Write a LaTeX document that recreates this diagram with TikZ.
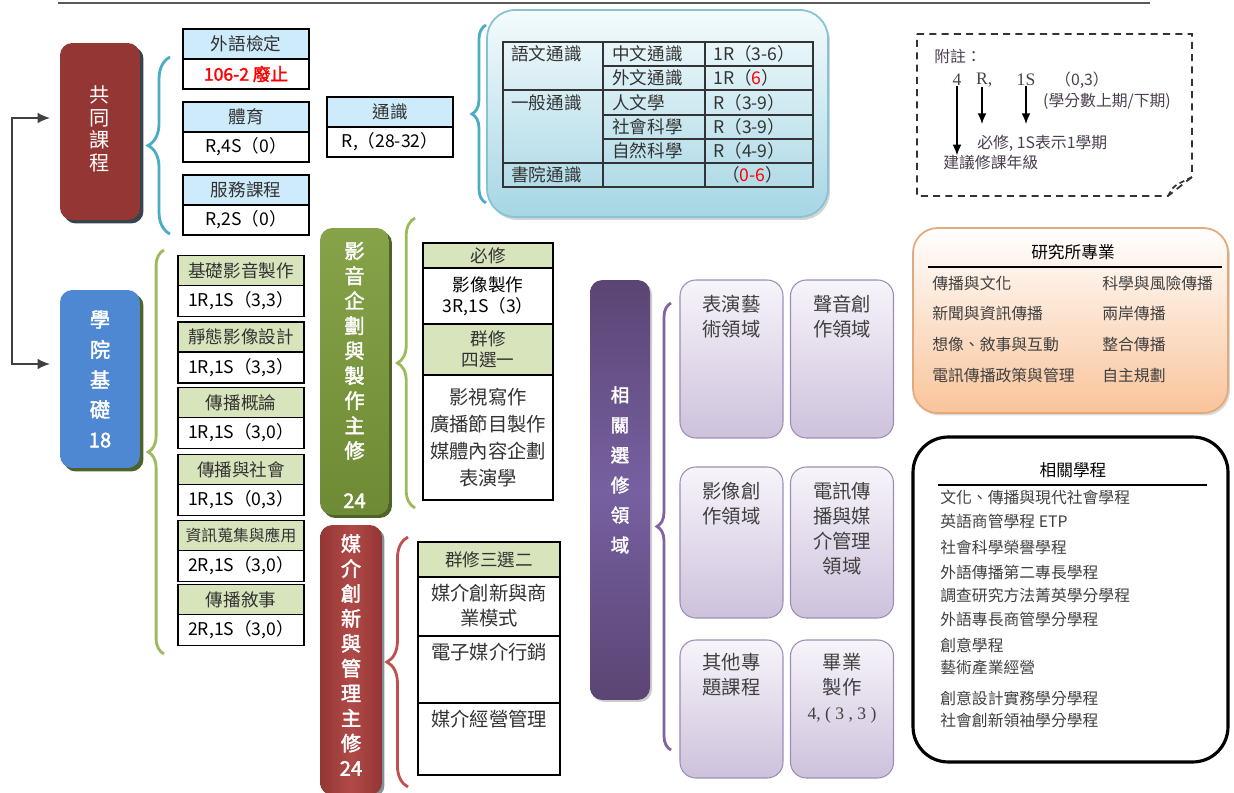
\documentclass[tikz,border=0pt]{standalone}
\usepackage{fontspec}
\setmainfont{Noto Sans CJK TC}[AutoFakeBold=2]
\newfontfamily\serifnum{Liberation Serif}
\usetikzlibrary{positioning,arrows.meta,decorations.pathreplacing,shadows}

\definecolor{wineRed}{HTML}{943634}
\definecolor{wineShadow}{HTML}{36444E}
\definecolor{brickLight}{HTML}{B04A48}
\definecolor{skyBlue}{HTML}{4F88D2}
\definecolor{oliveDark}{HTML}{4F6228}
\definecolor{leafGreen}{HTML}{6E8A34}
\definecolor{leafLight}{HTML}{86A34A}
\definecolor{grapeDark}{HTML}{5A4574}
\definecolor{grapeMid}{HTML}{7760A0}
\definecolor{headBlue}{HTML}{CDEBFA}
\definecolor{headGreen}{HTML}{D8E4BC}
\definecolor{braceTeal}{HTML}{4BACC6}
\definecolor{braceGreen}{HTML}{9BBB59}
\definecolor{braceRed}{HTML}{C0504D}
\definecolor{bracePurple}{HTML}{8064A2}
\definecolor{iceTop}{HTML}{F4FBFD}
\definecolor{iceBottom}{HTML}{A6D6E4}
\definecolor{iceLine}{HTML}{86C3D4}
\definecolor{peachBottom}{HTML}{F9C49A}
\definecolor{peachLine}{HTML}{E3A978}
\definecolor{lilacTop}{HTML}{F7F4FA}
\definecolor{lilacBottom}{HTML}{CDC1DC}
\definecolor{lilacLine}{HTML}{9D8DB5}
\definecolor{noteText}{HTML}{4A3F4F}
\newcommand{\redNum}[1]{\textcolor{red}{#1}}

\tikzset{
  majorbox/.style={rounded corners=7pt, minimum width=1.6cm},
  majortext/.style={text=white, align=center, inner sep=0pt},
  cell/.style={draw=black, line width=0.8pt, outer sep=0pt, minimum width=2.52cm, minimum height=0.6cm, inner sep=1pt, font=\fontsize{10}{12}\selectfont},
  bluehead/.style={cell, fill=headBlue, text=black!80},
  greenhead/.style={cell, fill=headGreen, text=black!80},
  valcell/.style={cell, fill=white},
  bigbrace/.style={decorate, line width=1.6pt, decoration={brace, amplitude=#1}},
  fieldbox/.style={draw=lilacLine, line width=0.6pt, rounded corners=9pt, top color=lilacTop, bottom color=lilacBottom, minimum width=2.06cm},
  fieldtext/.style={anchor=north, align=center, inner sep=0pt, text=black!75, font=\fontsize{11}{14.2}\selectfont},
  tbltext/.style={anchor=west, inner sep=0pt, font=\fontsize{10}{12}\selectfont, text=black!80},
  listtext/.style={anchor=west, inner sep=0pt, font=\fontsize{9}{11}\selectfont, text=black!75},
  notetext/.style={inner sep=0pt, font=\fontsize{9}{11}\selectfont, text=noteText},
  notenum/.style={inner sep=0pt, font=\serifnum\fontsize{10}{12}\selectfont, text=noteText},
  notearrow/.style={-{Latex[length=6pt,width=5pt]}, line width=0.8pt},
}

\begin{document}
\begin{tikzpicture}[x=0.02cm, y=-0.02cm]
  \useasboundingbox (0,0) rectangle (1234,793);

  % top rule
  \draw[black!65, line width=1pt] (58,3) -- (1150,3);

  % left blocks
  \node[majorbox, fill=wineRed, minimum height=3.54cm, drop shadow={shadow xshift=0.07cm, shadow yshift=-0.07cm, fill=wineShadow, opacity=1}] (gong) at (100,131.5) {};
  \node[majortext, font=\fontsize{11.5}{12.9}\selectfont] (gongtxt) at (100,129) {共\\同\\課\\程};
  \node[majorbox, fill=skyBlue, minimum height=3.56cm, drop shadow={shadow xshift=0.07cm, shadow yshift=-0.07cm, fill=oliveDark, opacity=1}] (xue) at (100,379) {};
  \node[majortext, font=\fontsize{11.5}{17.1}\selectfont\bfseries] (xuetxt) at (100,379) {學\\院\\基\\礎\\18};

  \coordinate (fork) at (12,240);
  \coordinate (gongin) at (50,118);
  \coordinate (xuein) at (50,364);
  \draw[-{Latex[length=7pt,width=6pt]}, line width=0.9pt, black!75] (fork) |- (gongin);
  \draw[-{Latex[length=7pt,width=6pt]}, line width=0.9pt, black!75] (fork) |- (xuein);

  % common courses
  \draw[bigbrace=12.5pt, braceTeal] (170,234) -- (170,57);
  \node[bluehead] (waiyu) at (246,44) {外語檢定};
  \node[valcell, below=0pt of waiyu, font=\fontsize{10}{12}\selectfont\bfseries, text=red] (waiyuv) {106-2 廢止};
  \node[bluehead] (tiyu) at (246,117) {體育};
  \node[valcell, below=0pt of tiyu] (tiyuv) {R,4S（0）};
  \node[bluehead] (fuwu) at (246,190) {服務課程};
  \node[valcell, below=0pt of fuwu] (fuwuv) {R,2S（0）};
  \node[bluehead] (tongshi) at (390,112) {通識};
  \node[valcell, below=0pt of tongshi] (tongshiv) {R,（28-32）};

  % general education table
  \draw[bigbrace=8pt, braceTeal] (486,203) -- (486,25);
  \node[draw=iceLine, line width=1pt, rounded corners=16pt, top color=iceTop, bottom color=iceBottom, minimum width=6.82cm, minimum height=4.14cm, drop shadow={shadow xshift=0.04cm, shadow yshift=-0.06cm, opacity=0.35}] (icepanel) at (657.5,113.5) {};
  \draw[black!80, line width=0.7pt] (503,42) rectangle (813,187);
  \draw[black!80, line width=0.7pt] (603,42) -- (603,187) (705,42) -- (705,187)
    (503,90) -- (813,90) (503,163) -- (813,163)
    (603,66) -- (813,66) (603,115) -- (813,115) (603,139) -- (813,139);
  \node[tbltext] (yuwen) at (511,54) {語文通識};
  \node[tbltext] (zhongwen) at (612,54) {中文通識};
  \node[tbltext] (zhongwenv) at (713,54) {1R（3-6）};
  \node[tbltext] (waiwen) at (612,78) {外文通識};
  \node[tbltext] (waiwenv) at (713,78) {1R（\redNum{6}）};
  \node[tbltext] (yiban) at (511,102.5) {一般通識};
  \node[tbltext] (renwen) at (612,102.5) {人文學};
  \node[tbltext] (renwenv) at (713,102.5) {R（3-9）};
  \node[tbltext] (shehui) at (612,127) {社會科學};
  \node[tbltext] (shehuiv) at (713,127) {R（3-9）};
  \node[tbltext] (ziran) at (612,151) {自然科學};
  \node[tbltext] (ziranv) at (713,151) {R（4-9）};
  \node[tbltext] (shuyuan) at (511,175) {書院通識};
  \node[tbltext] (shuyuanv) at (722,175) {（\redNum{0-6}）};

  % note
  \draw[black!80, line width=1pt, dash pattern=on 4pt off 3pt] (917,34) -- (1192,34) -- (1192,177) -- (1168,196) -- (917,196) -- cycle;
  \draw[black!80, line width=1pt, dash pattern=on 3pt off 2pt] (1168,196) .. controls (1173,187) .. (1180,183) -- (1192,177);
  \node[notetext, anchor=west] (fuzhu) at (934,57) {附註：};
  \node[notenum] (n4) at (957,80) {4};
  \node[notenum] (nR) at (982,80) {R\rlap{,}};
  \node[notenum] (n1S) at (1026,80) {1S};
  \node[notetext] (n03) at (1082,80) {（0,3）};
  \node[notetext] (credits) at (1107,101) {(學分數上期/下期)};
  \node[notetext, anchor=west] (reqtxt) at (977,143) {必修, 1S表示1學期};
  \node[notetext, anchor=west] (gradetxt) at (943,163) {建議修課年級};
  \draw[notearrow] (n4.south) -- (n4.south |- gradetxt.north);
  \draw[notearrow, shorten >=6pt] (nR.south) -- (nR.south |- reqtxt.north);
  \draw[notearrow, shorten >=6pt] (n1S.south) -- (n1S.south |- reqtxt.north);

  % college basics
  \draw[bigbrace=9pt, braceGreen] (164,654) -- (164,250);
  \node[greenhead] (jichu) at (241,270.5) {基礎影音製作};
  \node[valcell, below=0pt of jichu, minimum height=0.62cm] (jichuv) {1R,1S（3,3）};
  \node[greenhead] (jingtai) at (241,337) {靜態影像設計};
  \node[valcell, below=0pt of jingtai, minimum height=0.62cm] (jingtaiv) {1R,1S（3,3）};
  \node[greenhead] (gailun) at (241,402.5) {傳播概論};
  \node[valcell, below=0pt of gailun, minimum height=0.62cm] (gailunv) {1R,1S（3,0）};
  \node[greenhead] (shehuic) at (241,469.5) {傳播與社會};
  \node[valcell, below=0pt of shehuic, minimum height=0.62cm] (shehuicv) {1R,1S（0,3）};
  \node[greenhead, font=\fontsize{9}{11}\selectfont] (souji) at (241,535.5) {資訊蒐集與應用};
  \node[valcell, below=0pt of souji, minimum height=0.62cm] (soujiv) {2R,1S（3,0）};
  \node[greenhead] (xushi) at (241,599.5) {傳播敘事};
  \node[valcell, below=0pt of xushi, minimum height=0.62cm] (xushiv) {2R,1S（3,0）};

  % av major
  \node[majorbox, top color=leafLight, bottom color=leafGreen, minimum width=1.38cm, minimum height=5.74cm, drop shadow={shadow xshift=0.06cm, shadow yshift=-0.06cm, fill=oliveDark, opacity=1}] (yingyin) at (354.5,371.5) {};
  \node[majortext, font=\fontsize{11.5}{14.2}\selectfont\bfseries] (yingyintxt) at (354.5,375) {影\\音\\企\\劃\\與\\製\\作\\主\\修\\[14.2pt]24};
  \draw[bigbrace=10pt, braceGreen] (415,508) -- (415,218);
  \node[greenhead, minimum width=2.6cm, minimum height=0.5cm] (bixiu) at (488,255.5) {必修};
  \node[valcell, below=0pt of bixiu, minimum width=2.6cm, minimum height=1.12cm, align=center] (bixiuv) {影像製作\\3R,1S（3）};
  \node[greenhead, below=0pt of bixiuv, minimum width=2.6cm, minimum height=1.02cm, align=center] (qunxiu) {群修\\四選一};
  \node[valcell, below=0pt of qunxiu, minimum width=2.6cm, minimum height=2.5cm, align=center, font=\fontsize{11}{15.5}\selectfont, text=black!80] (qunxiuv) {影視寫作\\廣播節目製作\\媒體內容企劃\\表演學};

  % media major
  \node[majorbox, left color=wineRed, right color=wineRed, middle color=brickLight, minimum width=1.24cm, minimum height=5.4cm, drop shadow={shadow xshift=0.05cm, shadow yshift=-0.05cm, fill=wineShadow, opacity=0.6}] (meijie) at (351,660) {};
  \node[majortext, font=\fontsize{11.5}{14.2}\selectfont\bfseries] (meijietxt) at (351,655) {媒\\介\\創\\新\\與\\管\\理\\主\\修\\24};
  \draw[bigbrace=12pt, braceRed] (408,787) -- (408,537);
  \node[greenhead, minimum width=2.84cm, minimum height=0.7cm] (sanxuan) at (489,559.5) {群修三選二};
  \node[valcell, below=0pt of sanxuan, minimum width=2.84cm, minimum height=1.18cm] (chuangxin) {};
  \node[valcell, below=0pt of chuangxin, minimum width=2.84cm, minimum height=1.34cm] (xingxiao) {};
  \node[valcell, below=0pt of xingxiao, minimum width=2.84cm, minimum height=1.44cm] (jingying) {};
  \node[below=4pt, align=center, inner sep=0pt, font=\fontsize{11}{14.2}\selectfont, text=black!80] (chuangxintxt) at (chuangxin.north) {媒介創新與商\\業模式};
  \node[below=4pt, inner sep=0pt, font=\fontsize{11}{14.2}\selectfont, text=black!80] (xingxiaotxt) at (xingxiao.north) {電子媒介行銷};
  \node[below=4pt, inner sep=0pt, font=\fontsize{11}{14.2}\selectfont, text=black!80] (jingyingtxt) at (jingying.north) {媒介經營管理};

  % elective fields
  \node[majorbox, top color=grapeDark, bottom color=grapeDark, middle color=grapeMid, minimum width=1.2cm, minimum height=8.4cm, drop shadow={shadow xshift=0.04cm, shadow yshift=-0.04cm, opacity=0.4}] (xiangguan) at (620,490) {};
  \node[majortext, font=\fontsize{10.5}{17.1}\selectfont\bfseries] (xiangguantxt) at (620,470) {相\\關\\選\\修\\領\\域};
  \draw[bigbrace=8pt, bracePurple] (671,750) -- (671,303);
  \node[fieldbox, minimum height=3.16cm] (biaoyan) at (731.5,359) {};
  \node[fieldtext] (biaoyantxt) at (731.5,295) {表演藝\\術領域};
  \node[fieldbox, minimum height=3.16cm] (shengyin) at (842,359) {};
  \node[fieldtext] (shengyintxt) at (842,295) {聲音創\\作領域};
  \node[fieldbox, minimum height=3.02cm] (yingxiang) at (731.5,542.5) {};
  \node[fieldtext] (yingxiangtxt) at (731.5,482) {影像創\\作領域};
  \node[fieldbox, minimum height=3.02cm] (dianxun) at (842,542.5) {};
  \node[fieldtext] (dianxuntxt) at (842,482) {電訊傳\\播與媒\\介管理\\領域};
  \node[fieldbox, minimum height=2.76cm] (qita) at (731.5,709) {};
  \node[fieldtext] (qitatxt) at (731.5,653) {其他專\\題課程};
  \node[fieldbox, minimum height=2.76cm] (biye) at (842,709) {};
  \node[fieldtext] (biyetxt) at (842,653) {畢業\\製作\\{\serifnum\fontsize{10}{12}\selectfont 4, ( 3 , 3 )}};

  % graduate programs
  \node[draw=peachLine, line width=1pt, rounded corners=14pt, top color=white, bottom color=peachBottom, minimum width=6.3cm, minimum height=3.7cm, drop shadow={shadow xshift=0.04cm, shadow yshift=-0.05cm, opacity=0.3}] (gradpanel) at (1070.5,320.5) {};
  \node[inner sep=0pt, font=\fontsize{9.5}{11}\selectfont] (gradtitle) at (1073,252) {研究所專業};
  \draw[line width=0.8pt] (928,267) -- (1222,267);
  \node[listtext] (g1) at (932,283) {傳播與文化};
  \node[listtext] (g2) at (932,313) {新聞與資訊傳播};
  \node[listtext] (g3) at (932,344) {想像、敘事與互動};
  \node[listtext] (g4) at (932,375) {電訊傳播政策與管理};
  \node[listtext] (g5) at (1102,283) {科學與風險傳播};
  \node[listtext] (g6) at (1102,313) {兩岸傳播};
  \node[listtext] (g7) at (1102,344) {整合傳播};
  \node[listtext] (g8) at (1102,375) {自主規劃};

  % related programs
  \node[draw=black, line width=1.8pt, rounded corners=20pt, minimum width=6.3cm, minimum height=6.5cm] (progbox) at (1070.5,599.5) {};
  \node[inner sep=0pt, font=\fontsize{9.5}{11}\selectfont] (progtitle) at (1073,470) {相關學程};
  \draw[line width=0.8pt] (938,485) -- (1207,485);
  \node[listtext] (p1) at (940,497) {文化、傳播與現代社會學程};
  \node[listtext] (p2) at (940,521) {英語商管學程 ETP};
  \node[listtext] (p3) at (940,547) {社會科學榮譽學程};
  \node[listtext] (p4) at (940,572) {外語傳播第二專長學程};
  \node[listtext] (p5) at (940,595) {調查研究方法菁英學分學程};
  \node[listtext] (p6) at (940,619) {外語專長商管學分學程};
  \node[listtext] (p7) at (940,645) {創意學程};
  \node[listtext] (p8) at (940,668) {藝術產業經營};
  \node[listtext] (p9) at (940,698) {創意設計實務學分學程};
  \node[listtext] (p10) at (940,720) {社會創新領袖學分學程};
\end{tikzpicture}
\end{document}
